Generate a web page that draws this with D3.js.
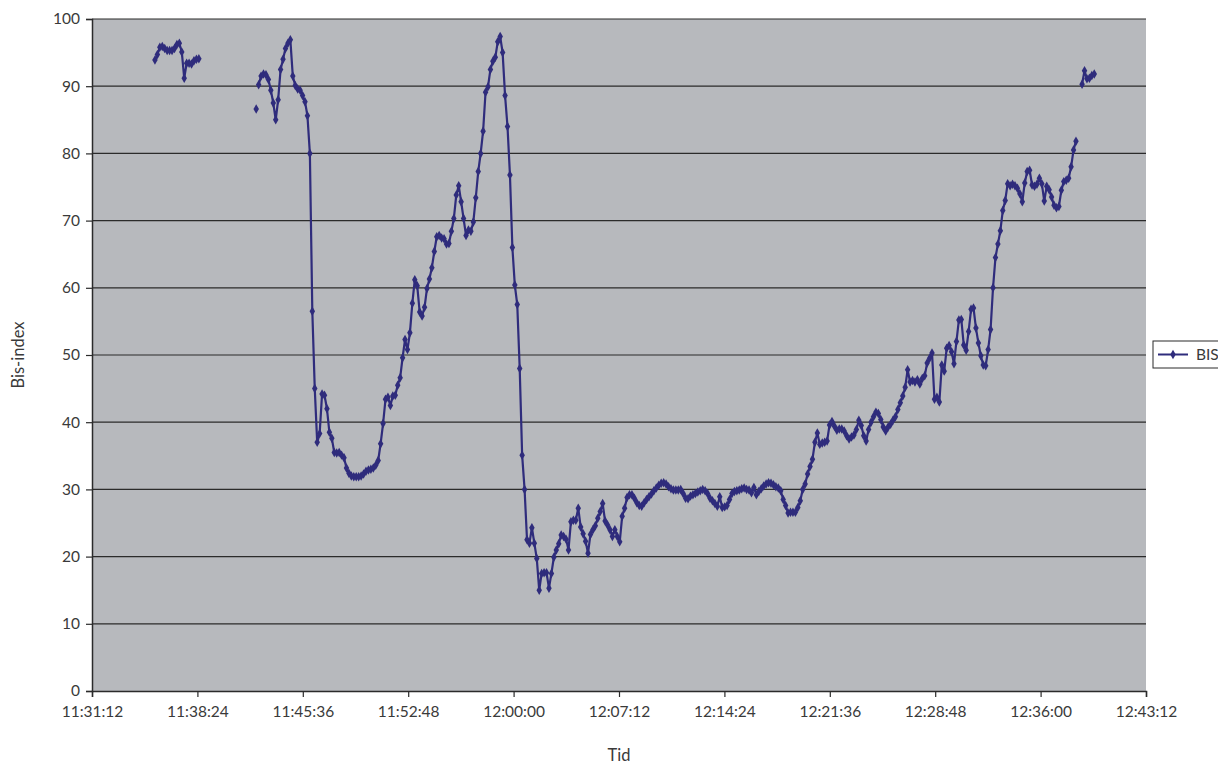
<!DOCTYPE html>
<html>
<head>
<meta charset="utf-8">
<script src="https://cdn.jsdelivr.net/npm/d3@7"></script>
<style>
  html, body { margin: 0; padding: 0; background: #ffffff; }
  svg text { font-family: Lato, "Open Sans", sans-serif; fill: #3a3a3a; }
</style>
</head>
<body>
<svg id="chart" width="1218" height="764"></svg>
<script>
// BIS monitor readings, one sample every 10 seconds, in three recorded stretches
const sampleStepSeconds = 10;

const firstStart = "11:35:30";
const firstValues = [93.9, 94.7, 95.8, 95.9, 95.6, 95.3, 95.3, 95.3, 95.6, 96.2,
  96.4, 95.1, 91.2, 93.4, 93.4, 93.3, 93.8, 94.0, 94.1];

const loneStart = "11:42:25";
const loneValues = [86.6];

const mainStart = "11:42:35";
const mainValues = [
  90.2, 91.5, 91.8, 91.7, 91.0, 89.4, 87.5, 85.0, 88.0, 92.5,
  94.0, 95.6, 96.4, 96.9, 91.5, 90.1, 89.6, 89.4, 88.6, 87.7,
  85.6, 80.0, 56.5, 45.0, 37.0, 38.3, 44.2, 44.0, 42.0, 38.5,
  37.6, 35.5, 35.4, 35.5, 35.1, 34.7, 33.2, 32.4, 32.0, 31.9,
  31.9, 31.9, 32.0, 32.3, 32.7, 32.9, 33.0, 33.2, 33.6, 34.3,
  36.8, 39.8, 43.4, 43.7, 42.5, 43.9, 44.0, 45.5, 46.6, 49.6,
  52.3, 50.8, 53.3, 57.7, 61.2, 60.3, 56.4, 55.8, 57.1, 59.9,
  61.3, 63.0, 65.4, 67.6, 67.8, 67.4, 67.3, 66.5, 66.6, 68.4,
  70.3, 73.8, 75.2, 72.8, 70.3, 67.8, 68.6, 68.4, 69.8, 73.4,
  77.3, 80.0, 83.3, 89.1, 89.9, 92.5, 93.7, 94.3, 96.6, 97.4,
  95.0, 88.6, 84.0, 76.8, 66.0, 60.4, 57.5, 48.0, 35.1, 30.0,
  22.5, 22.0, 24.3, 22.0, 19.7, 15.0, 17.5, 17.6, 17.6, 15.3,
  17.5, 19.9, 21.0, 21.9, 23.2, 23.0, 22.6, 21.0, 25.2, 25.4,
  25.4, 27.2, 24.4, 23.4, 22.3, 20.5, 23.3, 24.0, 24.6, 25.7,
  26.7, 27.9, 25.3, 24.7, 24.0, 23.0, 24.0, 23.0, 22.2, 26.0,
  27.2, 28.8, 29.2, 29.2, 28.7, 28.0, 27.6, 27.5, 28.0, 28.5,
  28.9, 29.3, 29.8, 30.2, 30.6, 30.9, 31.0, 30.8, 30.4, 30.1,
  29.9, 29.9, 29.9, 30.0, 29.4, 28.7, 28.6, 29.0, 29.2, 29.4,
  29.6, 29.8, 30.0, 29.8, 29.4, 28.7, 28.3, 27.9, 27.5, 28.9,
  27.3, 27.4, 27.6, 28.5, 29.4, 29.7, 29.8, 29.9, 30.1, 30.2,
  30.0, 29.9, 29.5, 30.3, 29.2, 29.7, 30.1, 30.5, 30.8, 31.0,
  30.9, 30.7, 30.4, 30.2, 29.8, 28.5, 27.6, 26.5, 26.6, 26.6,
  26.6, 27.3, 28.3, 30.0, 30.8, 32.3, 33.4, 34.5, 37.0, 38.4,
  36.7, 36.9, 37.0, 37.2, 39.6, 40.1, 39.4, 38.8, 39.0, 39.0,
  38.7, 38.0, 37.5, 37.8, 38.1, 38.9, 40.3, 39.5, 38.0, 37.2,
  38.9, 40.0, 40.8, 41.5, 41.3, 40.4, 39.3, 38.7, 39.3, 39.7,
  40.3, 40.8, 41.9, 42.9, 43.9, 45.2, 47.8, 46.0, 46.2, 46.0,
  46.3, 45.7, 46.5, 46.9, 48.8, 49.5, 50.3, 43.4, 43.7, 43.0,
  48.5, 47.6, 51.0, 51.4, 50.5, 48.7, 52.0, 55.2, 55.3, 51.5,
  50.7, 53.5, 56.8, 57.0, 54.0, 51.8, 49.9, 48.5, 48.4, 50.8,
  53.8, 60.0, 64.5, 66.5, 68.5, 71.5, 73.0, 75.5, 75.2, 75.4,
  75.2, 74.8, 74.0, 72.8, 75.6, 77.3, 77.5, 75.3, 75.1, 75.4,
  76.3, 75.5, 72.9, 75.1, 74.6, 73.5, 72.3, 71.9, 72.1, 74.5,
  75.8, 76.0, 76.3, 78.0, 80.5, 81.8];

const lastStart = "12:38:50";
const lastValues = [90.3, 92.3, 91.1, 91.2, 91.6, 91.8];

const xTickLabels = ["11:31:12", "11:38:24", "11:45:36", "11:52:48", "12:00:00", "12:07:12",
  "12:14:24", "12:21:36", "12:28:48", "12:36:00", "12:43:12"];
const yTickValues = [0, 10, 20, 30, 40, 50, 60, 70, 80, 90, 100];

const seriesName = "BIS";
const xTitle = "Tid";
const yTitle = "Bis-index";

const parseTime = d3.timeParse("%H:%M:%S");

function buildSegment(start, values) {
  const t0 = parseTime(start);
  return values.map((v, i) => ({ time: d3.timeSecond.offset(t0, i * sampleStepSeconds), value: v }));
}

const segments = [
  buildSegment(firstStart, firstValues),
  buildSegment(loneStart, loneValues),
  buildSegment(mainStart, mainValues),
  buildSegment(lastStart, lastValues)
];

const plot = { left: 92, right: 1146, top: 19, bottom: 691 };
const lineColor = "#2f2c7c";

const svg = d3.select("#chart");

const xTicks = xTickLabels.map(parseTime);
const x = d3.scaleTime()
  .domain([xTicks[0], xTicks[xTicks.length - 1]])
  .range([plot.left, plot.right]);
const y = d3.scaleLinear().domain([0, 100]).range([plot.bottom, plot.top]);

// plot area background
svg.append("rect")
  .attr("x", plot.left).attr("y", plot.top)
  .attr("width", plot.right - plot.left).attr("height", plot.bottom - plot.top)
  .attr("fill", "#b7b9bd");

// horizontal gridlines
svg.append("g")
  .selectAll("line")
  .data(yTickValues.filter(v => v > 0))
  .join("line")
  .attr("x1", plot.left).attr("x2", plot.right)
  .attr("y1", d => y(d)).attr("y2", d => y(d))
  .attr("stroke", "#2b2b2b").attr("stroke-width", 1.2);

// y axis
const yAxis = svg.append("g")
  .attr("transform", `translate(${plot.left},0)`)
  .call(d3.axisLeft(y).tickValues(yTickValues).tickSize(6).tickPadding(6).tickFormat(d3.format("d")));
yAxis.select(".domain").attr("stroke", "#2b2b2b").attr("stroke-width", 1.5);
yAxis.selectAll(".tick line").attr("stroke", "#2b2b2b").attr("stroke-width", 1.2);
yAxis.selectAll(".tick text").style("font-size", "15.5px").attr("fill", "#3a3a3a");

// x axis
const xAxis = svg.append("g")
  .attr("transform", `translate(0,${plot.bottom})`)
  .call(d3.axisBottom(x).tickValues(xTicks).tickSize(6).tickPadding(9)
    .tickFormat(d3.timeFormat("%H:%M:%S")));
xAxis.select(".domain").attr("stroke", "#2b2b2b").attr("stroke-width", 1.5);
xAxis.selectAll(".tick line").attr("stroke", "#2b2b2b").attr("stroke-width", 1.2);
xAxis.selectAll(".tick text").style("font-size", "15.5px").attr("fill", "#3a3a3a");

// axis titles
svg.append("text")
  .attr("x", (plot.left + plot.right) / 2).attr("y", 761)
  .attr("text-anchor", "middle").style("font-size", "16.5px")
  .text(xTitle);
svg.append("text")
  .attr("transform", `translate(24,${(plot.top + plot.bottom) / 2}) rotate(-90)`)
  .attr("text-anchor", "middle").style("font-size", "16.5px")
  .text(yTitle);

// series line and diamond markers
const line = d3.line().x(d => x(d.time)).y(d => y(d.value));
const diamond = d3.symbol().type(d3.symbolDiamond).size(26);

const seriesG = svg.append("g");
segments.forEach(seg => {
  if (seg.length > 1) {
    seriesG.append("path")
      .datum(seg)
      .attr("d", line)
      .attr("fill", "none")
      .attr("stroke", lineColor)
      .attr("stroke-width", 2.2)
      .attr("stroke-linejoin", "round");
  }
  seriesG.append("g")
    .selectAll("path")
    .data(seg)
    .join("path")
    .attr("d", diamond)
    .attr("transform", d => `translate(${x(d.time)},${y(d.value)})`)
    .attr("fill", lineColor);
});

// legend
const legend = svg.append("g").attr("transform", "translate(1153,341)");
legend.append("rect")
  .attr("width", 80).attr("height", 27)
  .attr("fill", "#ffffff").attr("stroke", "#2b2b2b").attr("stroke-width", 1);
legend.append("line")
  .attr("x1", 5).attr("x2", 35).attr("y1", 13.5).attr("y2", 13.5)
  .attr("stroke", lineColor).attr("stroke-width", 2);
legend.append("path")
  .attr("d", diamond)
  .attr("transform", "translate(20,13.5)")
  .attr("fill", lineColor);
legend.append("text")
  .attr("x", 43).attr("y", 19)
  .style("font-size", "15.5px")
  .text(seriesName);
</script>
</body>
</html>
